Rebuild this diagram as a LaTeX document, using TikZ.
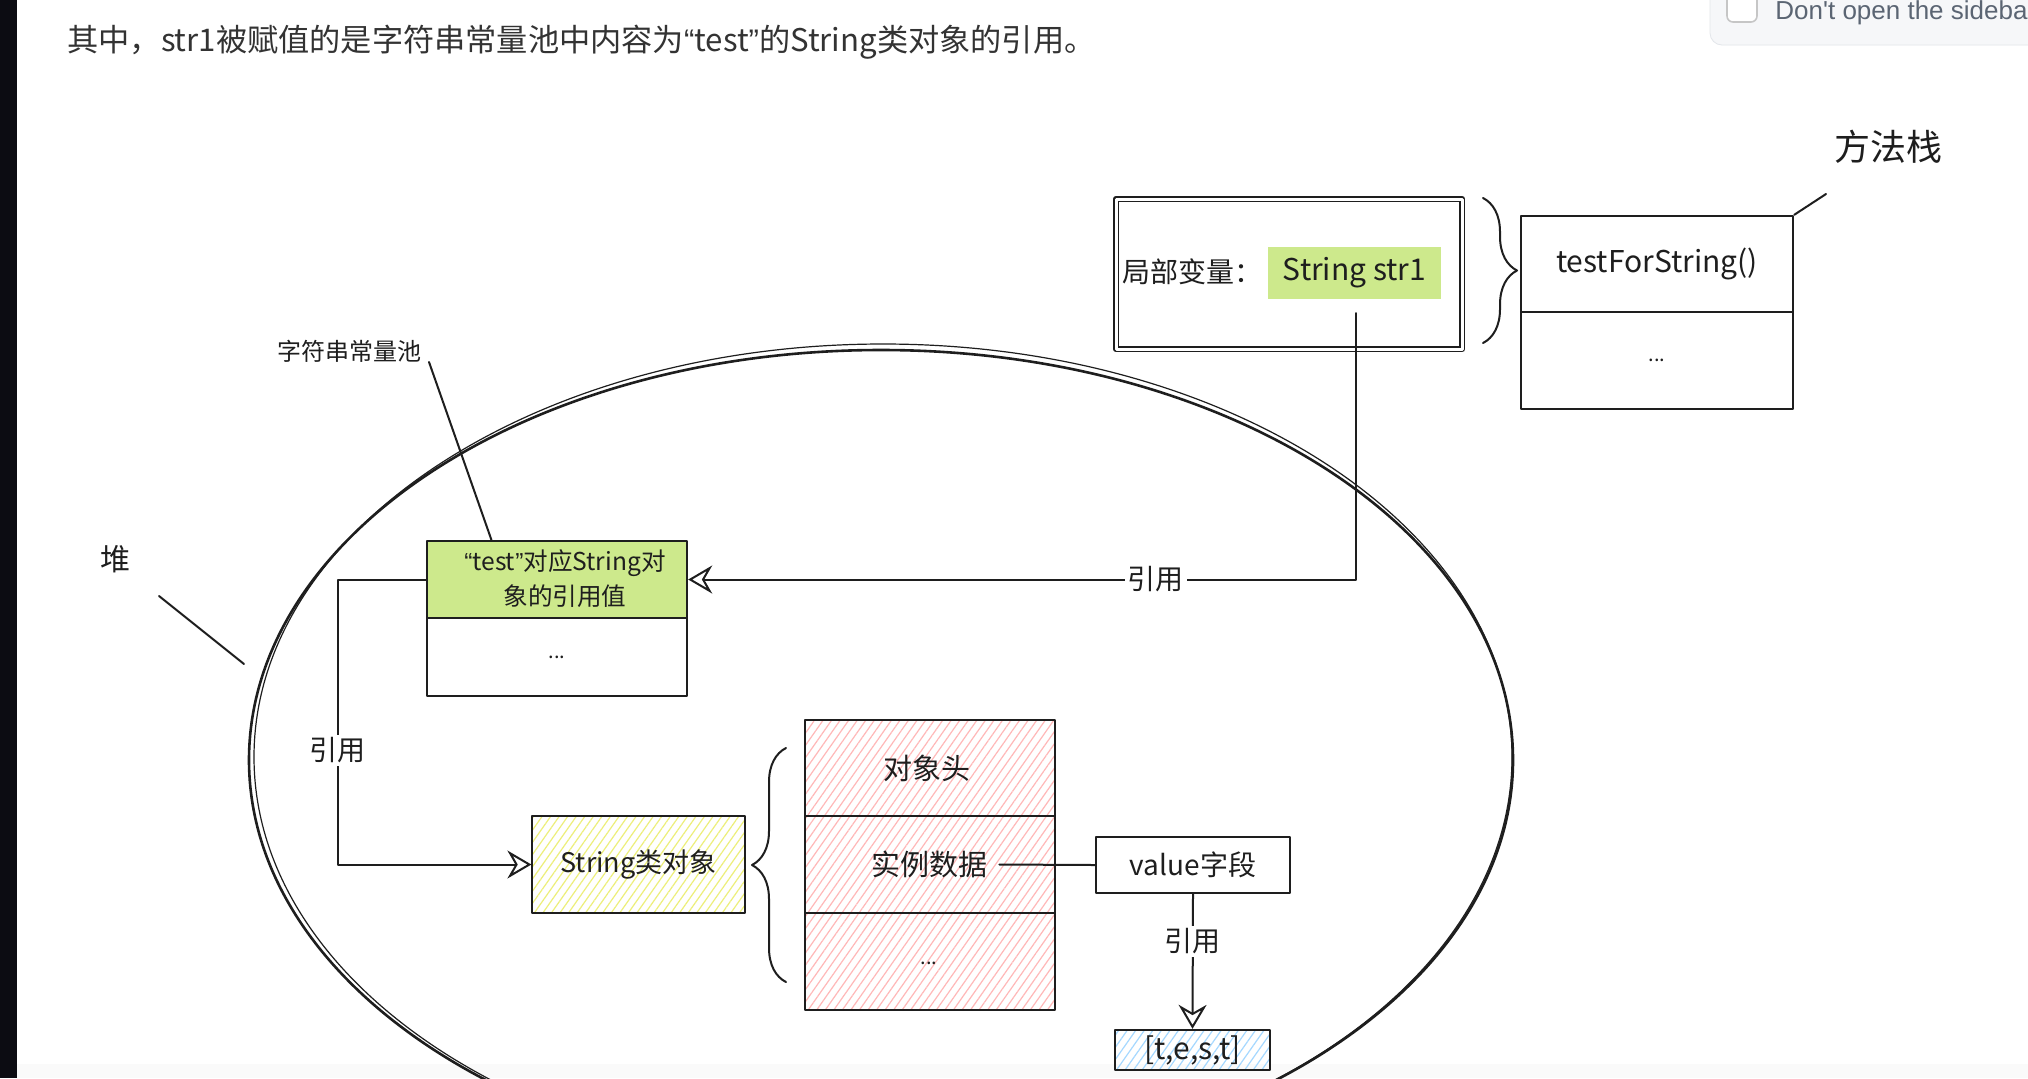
\documentclass[tikz,border=0pt]{standalone}
\usepackage{fontspec}
\setmainfont{Noto Sans CJK SC}
\newfontfamily\uifont{Liberation Sans}
\usetikzlibrary{arrows.meta,patterns.meta,decorations.pathreplacing,calc}
\definecolor{inkc}{HTML}{1E1E1E}
\definecolor{limec}{HTML}{CDE98C}
\definecolor{hatchred}{HTML}{FFB8B8}
\definecolor{hatchyel}{HTML}{EDEF7A}
\definecolor{hatchblue}{HTML}{A5D8FF}
\definecolor{stripc}{HTML}{0C0C12}
\definecolor{paneld}{HTML}{E3E6EA}
\definecolor{panelf}{HTML}{F6F7F9}
\definecolor{uitext}{HTML}{5B6573}
\definecolor{toptext}{HTML}{333333}
\newcommand\fz[2]{\fontsize{#1}{#2}\selectfont}
\begin{document}
\begin{tikzpicture}[x=0.5pt,y=-0.5pt, line join=round, line cap=round,
  box/.style={draw=inkc, line width=1.2pt, inner sep=0pt, text=inkc},
  conn/.style={draw=inkc, line width=1pt},
  arr/.style={conn, -{Stealth[open, length=12pt, width=14pt, inset=4pt, line width=1pt]}},
  lbl/.style={fill=white, inner sep=1.5pt, font=\fz{14pt}{16pt}, text=inkc},
  txt/.style={inner sep=0pt, text=inkc},
  hatch/.style={pattern={Lines[angle=55, distance=3.5pt, line width=0.6pt]}, pattern color=#1},
  bracestyle/.style={draw=inkc, line width=1pt, decorate, decoration={brace, amplitude=#1}},
]
\useasboundingbox (0,0) rectangle (2028,1078);
\clip (0,0) rectangle (2028,1078);
\fill[white] (0,0) rectangle (2028,1078);
\fill[stripc] (0,0) rectangle (17,1078);
\fill[gray!4] (17,1064) rectangle (2028,1078);

% browser UI remnant
\draw[draw=paneld, fill=panelf, rounded corners=6pt] (1710,-20) rectangle (2060,45);
\draw[draw=gray!45, fill=white, rounded corners=3pt, line width=0.8pt] (1727,-10) rectangle (1757,22);
\node[anchor=base west, inner sep=0pt, text=uitext, font=\uifont\fz{13pt}{15pt}] (ui) at (1775,19) {Don't open the sidebar};

% intro sentence
\node[anchor=west, inner sep=0pt, text=toptext, font=\fz{15.6pt}{19pt}] (intro) at (67,42) {其中，str1被赋值的是字符串常量池中内容为{\uifont “}test{\uifont ”}的String类对象的引用。};

% heap ellipse
\draw[inkc, line width=1.3pt] (881,760) ellipse [x radius=316pt, y radius=205pt];
\draw[inkc, line width=0.6pt] (883,757) ellipse [x radius=314.5pt, y radius=206.5pt];

% method stack
\node[box, double, double distance=1.5pt, line width=0.9pt, minimum width=173pt, minimum height=75pt] (lv) at (1289,274) {};
\node[fill=limec, minimum width=86.5pt, minimum height=26pt, inner sep=0pt, font=\fz{15pt}{17pt}, text=inkc] (str1) at (1354.5,273) {String str1};
\node[txt, font=\fz{14pt}{16pt}] (lvtxt) at (1192,272) {局部变量：};
\node[box, minimum width=136pt, minimum height=48pt, font=\fz{15pt}{17pt}] (tfs) at (1657,264) {testForString()};
\node[box, minimum width=136pt, minimum height=48.5pt, font=\fz{10pt}{12pt}] (tfsmore) at (1657,360.5) {...};
\node[txt, font=\fz{18pt}{20pt}] (stack) at (1888,147) {方法栈};
\coordinate (stackp) at (1826,194);
\draw[bracestyle=17pt] (1483,198) -- (1483,343);

% labels outside heap
\node[txt, font=\fz{15pt}{17pt}] (heap) at (115,559) {堆};
\coordinate (heapa) at (159,596);
\coordinate (heapb) at (244,664);
\node[txt, font=\fz{12pt}{14pt}] (pool) at (349,351) {字符串常量池};
\coordinate (poolp) at (429,362);

% string pool entry
\node[box, fill=limec, minimum width=130pt, minimum height=38.5pt] (testTop) at (557,579.5) {};
\node[txt, align=center, font=\fz{12.3pt}{17.5pt}] (testTxt) at (565,579) {{\uifont “}test{\uifont ”}对应String对\\象的引用值};
\node[box, minimum width=130pt, minimum height=39pt, font=\fz{10pt}{12pt}] (testMore) at (557,657) {...};

% String object
\node[box, hatch=hatchyel, minimum width=106.5pt, minimum height=48.5pt, font=\fz{13.5pt}{16pt}] (strObj) at (638.5,864.5) {String类对象};
\draw[bracestyle=17pt] (786,982) -- (786,748);
\node[box, hatch=hatchred, minimum width=125pt, minimum height=48pt] (hdr) at (930,768) {};
\node[box, hatch=hatchred, minimum width=125pt, minimum height=48.5pt] (data) at (930,864.5) {};
\node[box, hatch=hatchred, minimum width=125pt, minimum height=48.5pt] (rest) at (930,961.5) {};
\node[txt, font=\fz{14.5pt}{17pt}] (hdrTxt) at (927,768) {对象头};
\node[txt, inner sep=6pt, font=\fz{14.5pt}{17pt}] (dataTxt) at (929,864.5) {实例数据};
\node[txt, font=\fz{10pt}{12pt}] (restTxt) at (929,963) {...};
\node[box, fill=white, minimum width=97pt, minimum height=28pt, font=\fz{14pt}{16pt}] (value) at (1193,865) {value字段};
\node[box, hatch=hatchblue, minimum width=77.5pt, minimum height=20pt, font=\fz{15pt}{17pt}] (tvals) at (1192.5,1050) {[t,e,s,t]};

% connectors
\coordinate (str1p) at (1356,313);
\draw[conn] (stackp) -- (tfs.north east);
\draw[conn] (heapa) -- (heapb);
\draw[conn] (poolp) -- ($(testTop.north west)!0.25!(testTop.north east)$);
\draw[arr] (str1p) |- node[lbl, pos=0.65]{引用} (testTop.east);
\draw[arr] (testTop.west) -- ++(-88,0) |- node[lbl, pos=0.3]{引用} (strObj.west);
\draw[conn] (dataTxt.east) -- (value.west);
\draw[arr] (value.south) -- node[lbl, pos=0.35]{引用} (tvals.north);
\end{tikzpicture}
\end{document}
